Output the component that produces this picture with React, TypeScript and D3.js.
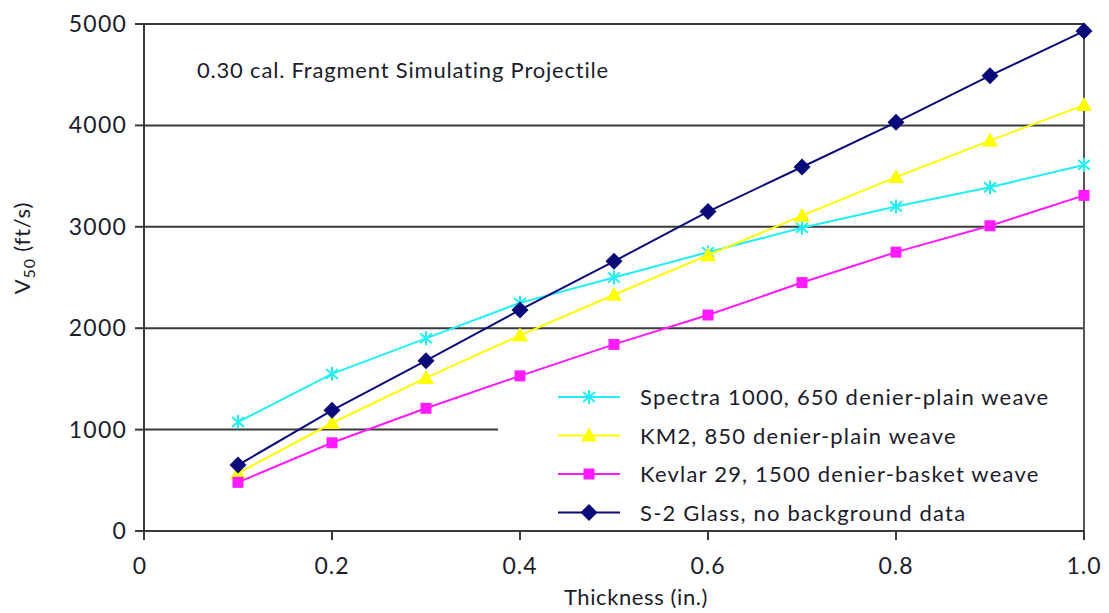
import React from "react";
import * as d3 from "d3";

const thickness = [0.1, 0.2, 0.3, 0.4, 0.5, 0.6, 0.7, 0.8, 0.9, 1.0];
const spectra = [1075, 1550, 1900, 2250, 2500, 2750, 2990, 3200, 3390, 3610];
const km2 = [570, 1065, 1510, 1930, 2330, 2720, 3110, 3490, 3850, 4200];
const kevlar = [480, 870, 1210, 1530, 1840, 2130, 2450, 2750, 3010, 3310];
const glass = [650, 1190, 1680, 2180, 2660, 3150, 3590, 4030, 4490, 4930];

const seriesNames = [
  "Spectra 1000, 650 denier-plain weave",
  "KM2, 850 denier-plain weave",
  "Kevlar 29, 1500 denier-basket weave",
  "S-2 Glass, no background data",
];
const seriesColors = ["#22eef4", "#ffff00", "#ff1aff", "#0a0a78"];
const seriesMarkers = ["star", "triangle", "square", "diamond"];
const seriesValues = [spectra, km2, kevlar, glass];

const xTicks = [0, 0.2, 0.4, 0.6, 0.8, 1.0];
const xTickLabels = ["0", "0.2", "0.4", "0.6", "0.8", "1.0"];
const yTicks = [0, 1000, 2000, 3000, 4000, 5000];

const W = 1109, H = 613;
const M = { left: 144, right: 1084, top: 24, bottom: 531 };
const FONT = "Lato, 'Open Sans', sans-serif";
const TXT = "#1c1c2c";

function Marker({ type, x, y, color }: { type: string; x: number; y: number; color: string }) {
  if (type === "diamond") {
    const s = 8.5;
    return <path d={`M${x},${y - s}L${x + s},${y}L${x},${y + s}L${x - s},${y}Z`} fill={color} />;
  }
  if (type === "triangle") {
    const s = 8;
    return <path d={`M${x},${y - s}L${x + s},${y + s * 0.75}L${x - s},${y + s * 0.75}Z`} fill={color} />;
  }
  if (type === "square") {
    const s = 5.5;
    return <rect x={x - s} y={y - s} width={2 * s} height={2 * s} fill={color} />;
  }
  const s = 7;
  return (
    <g stroke={color} strokeWidth={2}>
      <line x1={x} y1={y - s} x2={x} y2={y + s} />
      <line x1={x - s * 0.85} y1={y - s * 0.7} x2={x + s * 0.85} y2={y + s * 0.7} />
      <line x1={x - s * 0.85} y1={y + s * 0.7} x2={x + s * 0.85} y2={y - s * 0.7} />
    </g>
  );
}

export default function App() {
  const x = d3.scaleLinear().domain([0, 1]).range([M.left, M.right]);
  const y = d3.scaleLinear().domain([0, 5000]).range([M.bottom, M.top]);
  const line = d3
    .line<number>()
    .x((_, i) => x(thickness[i]))
    .y((d) => y(d));

  const legX = 558, legY0 = 397, legDy = 38.5;

  return (
    <div style={{ position: "absolute", left: 0, top: 0 }}>
      <svg width={W} height={H} style={{ display: "block", background: "#fff" }}>
        {yTicks.filter((t) => t > 0).map((t) => (
          <line key={t} x1={M.left} x2={t === 1000 ? 498 : M.right} y1={y(t)} y2={y(t)} stroke="#3a3a3a" strokeWidth={2} />
        ))}
        <line x1={M.left} x2={M.left} y1={M.top} y2={M.bottom} stroke="#3a3a3a" strokeWidth={2} />
        <line x1={M.right} x2={M.right} y1={M.top} y2={M.bottom} stroke="#555" strokeWidth={2} />
        <line x1={M.left} x2={M.right} y1={M.bottom} y2={M.bottom} stroke="#3a3a3a" strokeWidth={2} />
        {yTicks.map((t) => (
          <g key={t}>
            <line x1={M.left - 9} x2={M.left} y1={y(t)} y2={y(t)} stroke="#3a3a3a" strokeWidth={2} />
            <text x={127} y={y(t) + 8} textAnchor="end" fontFamily={FONT} fontSize={23} letterSpacing={1.2} fill={TXT}>
              {t}
            </text>
          </g>
        ))}
        {xTicks.map((t, i) => (
          <g key={t}>
            <line x1={x(t)} x2={x(t)} y1={M.bottom} y2={M.bottom + 9} stroke="#3a3a3a" strokeWidth={2} />
            <text x={t === 0 ? x(t) - 4 : x(t)} y={574} textAnchor="middle" fontFamily={FONT} fontSize={23} letterSpacing={1} fill={TXT}>
              {xTickLabels[i]}
            </text>
          </g>
        ))}
        <text x={636} y={605} textAnchor="middle" fontFamily={FONT} fontSize={22} letterSpacing={0.6} fill={TXT}>
          Thickness (in.)
        </text>
        <text transform="translate(30,248) rotate(-90)" textAnchor="middle" fontFamily={FONT} fontSize={22} letterSpacing={0.8} fill={TXT}>
          V<tspan fontSize={16} dy={5}>50</tspan>
          <tspan dy={-5}> (ft/s)</tspan>
        </text>
        <text x={197} y={78} fontFamily={FONT} fontSize={22} letterSpacing={0.8} fill={TXT}>
          0.30 cal. Fragment Simulating Projectile
        </text>
        <rect x={498} y={388} width={585} height={141} fill="#fff" />
        {seriesValues.map((vals, si) => (
          <g key={si}>
            <path d={line(vals) || ""} fill="none" stroke={seriesColors[si]} strokeWidth={2} />
            {vals.map((v, i) => (
              <Marker key={i} type={seriesMarkers[si]} x={x(thickness[i])} y={y(v)} color={seriesColors[si]} />
            ))}
          </g>
        ))}
        {seriesNames.map((n, i) => (
          <g key={n}>
            <line x1={legX} x2={legX + 62} y1={legY0 + i * legDy} y2={legY0 + i * legDy} stroke={seriesColors[i]} strokeWidth={2} />
            <Marker type={seriesMarkers[i]} x={legX + 31} y={legY0 + i * legDy} color={seriesColors[i]} />
            <text x={640} y={legY0 + i * legDy + 8} fontFamily={FONT} fontSize={22} letterSpacing={1.2} fill={TXT}>
              {n}
            </text>
          </g>
        ))}
      </svg>
    </div>
  );
}
